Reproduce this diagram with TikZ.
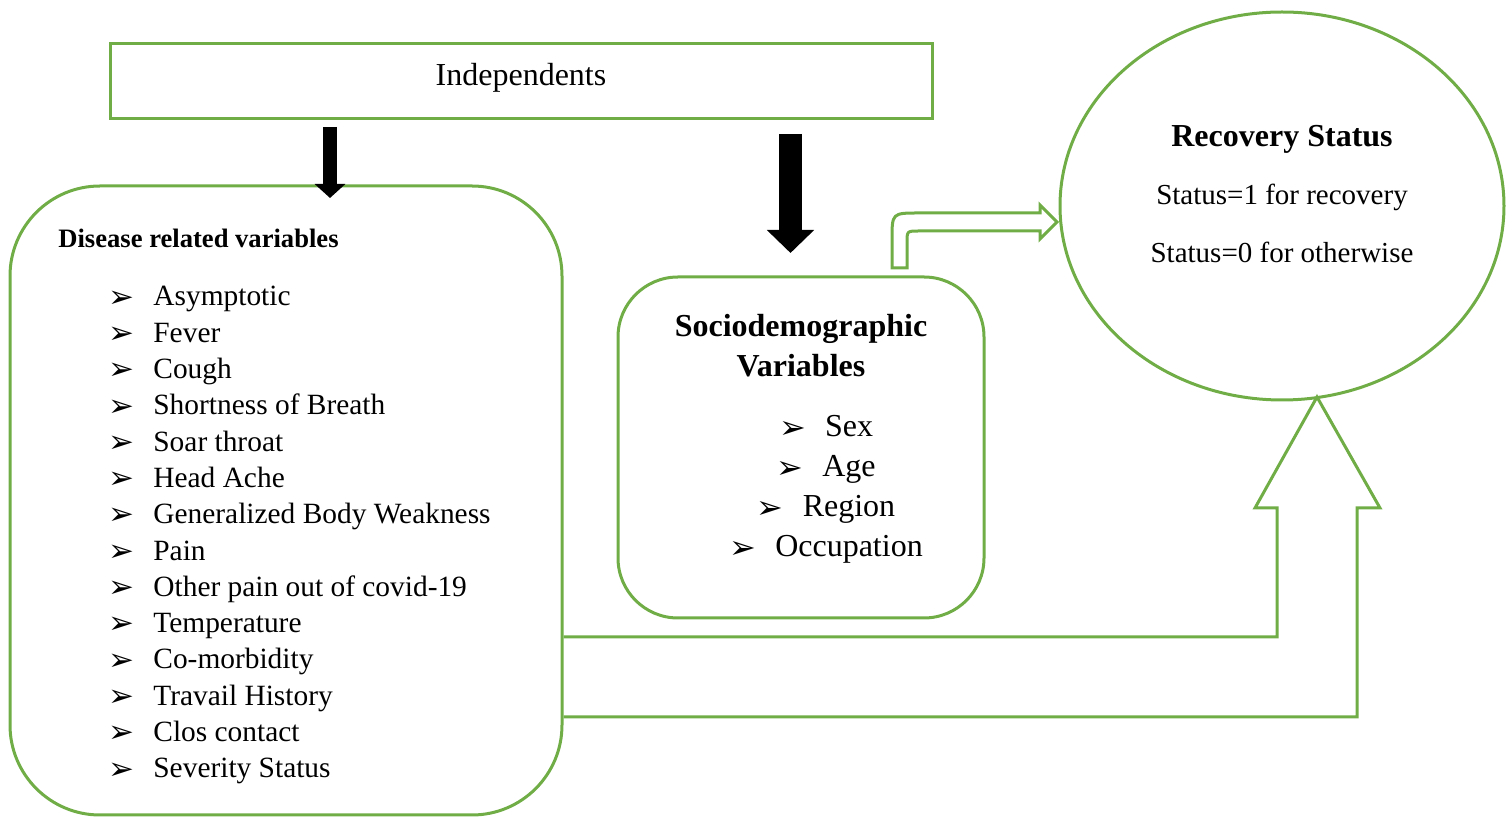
\documentclass[tikz,border=0pt]{standalone}
\usepackage{fontspec}
\setmainfont{Liberation Serif}
\newfontfamily\symfont{DejaVu Sans}
\usepackage{tikz}
\usetikzlibrary{arrows.meta}
\usetikzlibrary{positioning}
\usetikzlibrary{shapes.geometric}
\definecolor{leafgreen}{RGB}{112,173,71}
\newcommand{\litem}[1]{\makebox[22.5pt][l]{\raisebox{-0.6pt}{\symfont\fontsize{15.5pt}{15.5pt}\selectfont ➢}}#1}
\newcommand{\sitem}[1]{\makebox[23pt][l]{\raisebox{-0.6pt}{\symfont\fontsize{16pt}{16pt}\selectfont ➢}}#1}
\begin{document}
\begin{tikzpicture}[x=0.5pt,y=-0.5pt]

			\tikzset{BoxStyle/.style = {draw=leafgreen, line width=1.5pt, inner sep=0pt}}
			\tikzset{GreenLine/.style = {draw=leafgreen, line width=1.5pt}}
			\tikzset{ItemStyle/.style = {anchor=base west, inner sep=0pt,
					font=\fontsize{14.7pt}{18pt}\selectfont}}
			\tikzset{SocioItem/.style = {anchor=base, inner sep=0pt,
					font=\fontsize{16pt}{19pt}\selectfont}}
			\tikzset{TitleStyle/.style = {anchor=base, inner sep=0pt,
					font=\fontsize{16pt}{19pt}\selectfont\bfseries}}
			\tikzset{BlockArrow/.style = {line width=#1, black}}

			\useasboundingbox (0,0) rectangle (1512,817);

			\node[BoxStyle, minimum width=411pt, minimum height=37.5pt](indep) at (521,81.5) {};
			\node[anchor=base, inner sep=0pt, font=\fontsize{16pt}{19pt}\selectfont](indeplabel) at (521,86) {Independents};

			\node[BoxStyle, rounded corners=45pt, minimum width=276pt, minimum height=314.5pt](disease) at (286,500.5) {};
			\node[BoxStyle, rounded corners=30pt, minimum width=183pt, minimum height=170.5pt](socio) at (801,447.5) {};
			\node[BoxStyle, ellipse, minimum width=222pt, minimum height=194pt](recovery) at (1282,206) {};

			\coordinate (arrowAtop) at (330,127);
			\coordinate (arrowAtip) at (330,198);
			\coordinate (arrowBtop) at (790.5,134);
			\coordinate (arrowBtip) at (790.5,253);
			\draw[BlockArrow=7pt, -{Triangle[length=7pt,width=15pt]}](arrowAtop) -- (arrowAtip);
			\draw[BlockArrow=11.5pt, -{Triangle[length=11.5pt,width=23pt]}](arrowBtop) -- (arrowBtip);

			\node[anchor=base west, inner sep=0pt, font=\fontsize{13.3pt}{16pt}\selectfont\bfseries](diseasetitle) at (58,248) {Disease related variables};
			\node[ItemStyle](d1) at (108,306) {\litem{Asymptotic}};
			\node[ItemStyle](d2) at (108,342.3) {\litem{Fever}};
			\node[ItemStyle](d3) at (108,378.6) {\litem{Cough}};
			\node[ItemStyle](d4) at (108,414.9) {\litem{Shortness of Breath}};
			\node[ItemStyle](d5) at (108,451.2) {\litem{Soar throat}};
			\node[ItemStyle](d6) at (108,487.5) {\litem{Head Ache}};
			\node[ItemStyle](d7) at (108,523.8) {\litem{Generalized Body Weakness}};
			\node[ItemStyle](d8) at (108,560.1) {\litem{Pain}};
			\node[ItemStyle](d9) at (108,596.4) {\litem{Other pain out of covid-19}};
			\node[ItemStyle](d10) at (108,632.7) {\litem{Temperature}};
			\node[ItemStyle](d11) at (108,669) {\litem{Co-morbidity}};
			\node[ItemStyle](d12) at (108,705.3) {\litem{Travail History}};
			\node[ItemStyle](d13) at (108,741.6) {\litem{Clos contact}};
			\node[ItemStyle](d14) at (108,777.9) {\litem{Severity Status}};

			\node[TitleStyle](sociotitle) at (801,337) {Sociodemographic};
			\node[TitleStyle](sociotitleb) at (801,377) {Variables};
			\node[SocioItem](s1) at (826,437) {\sitem{Sex}};
			\node[SocioItem](s2) at (826,477) {\sitem{Age}};
			\node[SocioItem](s3) at (826,517) {\sitem{Region}};
			\node[SocioItem](s4) at (826,557) {\sitem{Occupation}};

			\node[TitleStyle](rectitle) at (1282,147) {Recovery Status};
			\node[anchor=base, inner sep=0pt, font=\fontsize{14.5pt}{17pt}\selectfont](status1) at (1282,205) {Status=1 for recovery};
			\node[anchor=base, inner sep=0pt, font=\fontsize{14.5pt}{17pt}\selectfont](status0) at (1282,263) {Status=0 for otherwise};

			\draw[GreenLine, line join=miter](892,268) -- (892,240) .. controls (892,213) .. (919,213) -- (1040,213) -- (1040,205) -- (1057,222) -- (1040,239) -- (1040,231) -- (919,231) .. controls (907,231) .. (907,243) -- (907,268) -- cycle;
			\draw[GreenLine, line join=miter](disease.east |- 0,637) -- (1277,637) -- (1277,508) -- (1255,508) -- (1317,397) -- (1380,508) -- (1357,508) -- (1357,717) -- (disease.east |- 0,717);
\end{tikzpicture}
\end{document}
